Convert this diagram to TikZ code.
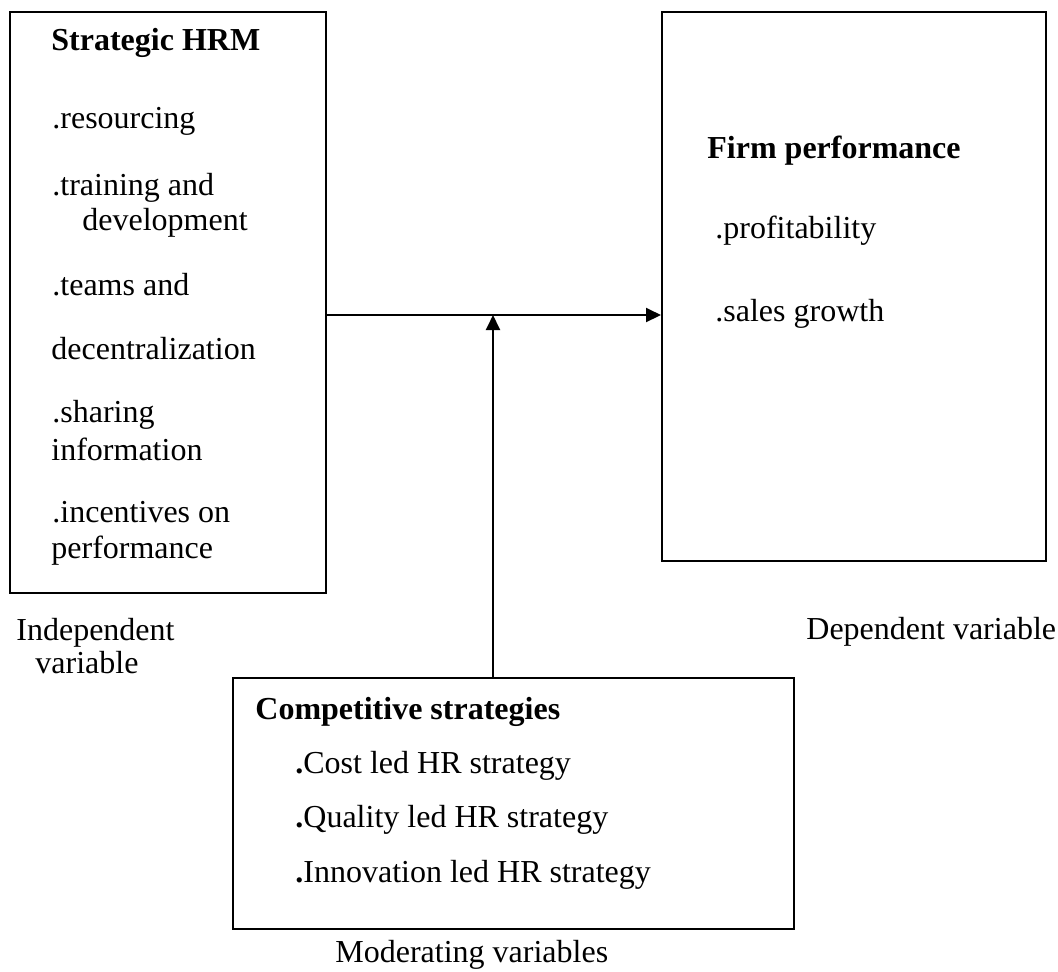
\documentclass[tikz,border=0pt]{standalone}
\usepackage{fontspec}
\setmainfont{Liberation Serif}
\usetikzlibrary{positioning,arrows.meta}

\begin{document}
\begin{tikzpicture}[
    x=0.5pt, y=-0.5pt,
    >={Triangle[length=7.5pt,width=7pt]},
    box/.style={draw, line width=1pt, inner sep=0pt},
    txt/.style={anchor=base west, inner sep=0pt, font=\fontsize{16}{19}\selectfont},
    head/.style={txt, font=\fontsize{16}{19}\selectfont\bfseries}
]
\useasboundingbox (0,0) rectangle (1058,971);

% the three boxes
\node[box, minimum width=158pt, minimum height=290.5pt] (hrm) at (168,302.5) {};
\node[box, minimum width=192pt, minimum height=274.5pt] (firm) at (854,286.5) {};
\node[box, minimum width=280.5pt, minimum height=125.5pt] (comp) at (513.5,803.5) {};

% independent variable
\node[head] (hrmT) at (51,50) {Strategic HRM};
\node[txt] (res) at (52,128) {.resourcing};
\node[txt] (train) at (52,195) {.training and};
\node[txt] (dev) at (82,230) {development};
\node[txt] (teams) at (52,295) {.teams and};
\node[txt] (decen) at (51,359) {decentralization};
\node[txt] (share) at (52,422) {.sharing};
\node[txt] (info) at (51,460) {information};
\node[txt] (incent) at (52,522) {.incentives on};
\node[txt] (perf) at (51,558) {performance};

% dependent variable
\node[head] (firmT) at (707,158) {Firm performance};
\node[txt] (profit) at (715,238) {.profitability};
\node[txt] (sales) at (715,321) {.sales growth};

% moderating variables
\node[head] (compT) at (255,719) {Competitive strategies};
\node[txt] (cost) at (295,773) {\textbf{.}Cost led HR strategy};
\node[txt] (qual) at (295,827) {\textbf{.}Quality led HR strategy};
\node[txt] (innov) at (295,882) {\textbf{.}Innovation led HR strategy};

% captions
\node[txt] (indep1) at (16,640) {Independent};
\node[txt] (indep2) at (35,673) {variable};
\node[txt] (dep) at (806,639) {Dependent variable};
\node[txt] (moder) at (335,962) {Moderating variables};

% connectors
\coordinate (meet) at (493,315);
\draw[->, line width=1pt] (hrm.east |- meet) -- (firm.west |- meet);
\draw[->, line width=1pt] (comp.north -| meet) -- (meet);
\end{tikzpicture}
\end{document}
